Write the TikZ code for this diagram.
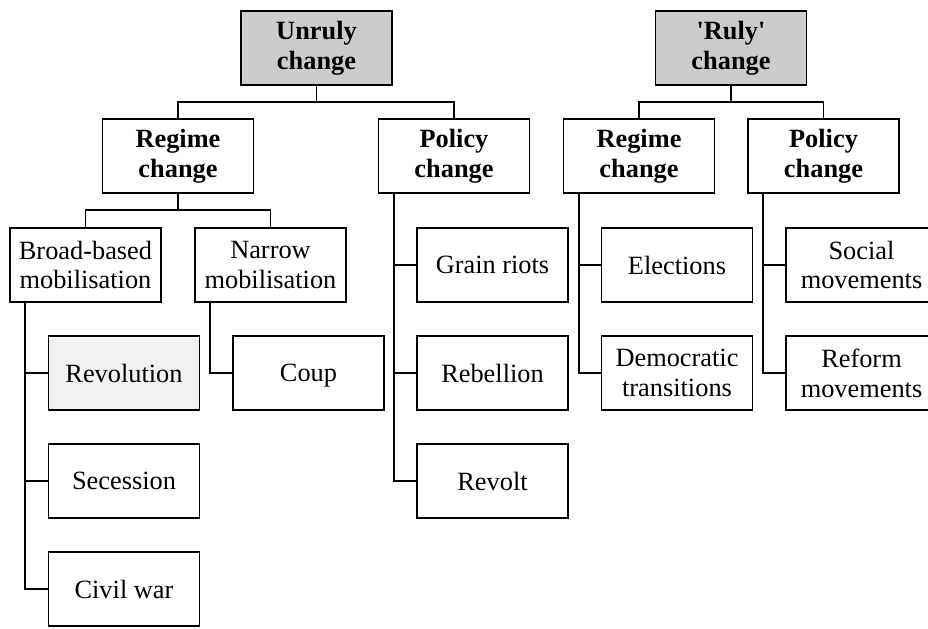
\documentclass[tikz,border=0pt]{standalone}
\usepackage{fontspec}
\setmainfont{Liberation Serif}
\usepackage{tikz}

\begin{document}
\begin{tikzpicture}[x=0.02cm, y=-0.02cm,
		box/.style={draw=black, fill=white, line width=1.1pt, minimum width=3.02cm, minimum height=1.48cm, inner sep=0pt, align=center, font=\fontsize{15}{17}\selectfont},
		head/.style={box, font=\fontsize{15}{17}\selectfont\bfseries},
		top/.style={head, fill=gray!40},
		link/.style={line width=1.1pt}
	]
	\useasboundingbox (0,0) rectangle (928,628);
	% top level
	\node[top] (unruly) at (316.5,48) {Unruly\\change};
	\node[top] (ruly) at (731,48) {\textquotesingle Ruly\textquotesingle\\change};
	% second level
	\node[head] (reg1) at (178,156) {Regime\\change};
	\node[head] (pol1) at (454,156) {Policy\\change};
	\node[head] (reg2) at (639,156) {Regime\\change};
	\node[head] (pol2) at (823.5,156) {Policy\\change};
	% mobilisation
	\node[box] (broad) at (85.5,265) {Broad-based\\mobilisation};
	\node[box] (narrow) at (270.5,265) {Narrow\\mobilisation};
	% leaves
	\node[box, fill=gray!10] (rev) at (124,373) {Revolution};
	\node[box] (sec) at (124,481) {Secession};
	\node[box] (civ) at (124,589) {Civil war};
	\node[box] (coup) at (308.5,373) {\raisebox{0pt}[\height][0pt]{Coup}};
	\node[box] (grain) at (492.5,265) {Grain riots};
	\node[box] (reb) at (492.5,373) {Rebellion};
	\node[box] (revolt) at (492.5,481) {Revolt};
	\node[box] (elec) at (677,265) {Elections};
	\node[box] (demo) at (677,373) {Democratic\\transitions};
	\node[box] (social) at (861.5,265) {Social\\movements};
	\node[box] (reform) at (861.5,373) {Reform\\movements};

	% tree links
	\foreach \p/\c in {unruly/reg1, unruly/pol1, ruly/reg2, ruly/pol2, reg1/broad, reg1/narrow} {
			\draw[link] (\p.south) -- ++(0,16) -| (\c.north);
		}
	\foreach \p/\c in {broad/rev, broad/sec, broad/civ, narrow/coup, pol1/grain, pol1/reb, pol1/revolt, reg2/elec, reg2/demo, pol2/social, pol2/reform} {
			\draw[link] ([xshift=0.32cm]\p.south west) |- (\c.west);
		}
\end{tikzpicture}
\end{document}
